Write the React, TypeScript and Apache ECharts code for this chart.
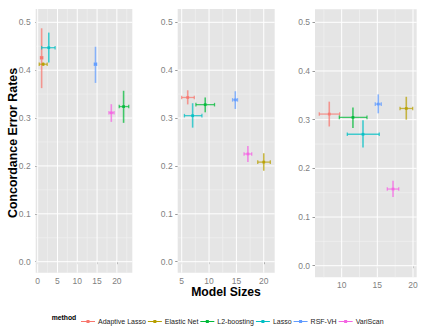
import React, { useEffect, useRef } from "react";
import * as echarts from "echarts";

const methods = ["Adaptive Lasso", "Elastic Net", "L2-boosting", "Lasso", "RSF-VH", "VariScan"];
const colors = ["#F8766D", "#B79F00", "#00BA38", "#00BFC4", "#619CFF", "#F564E3"];

// Panel 1
const size1 = [1.0, 1.4, 21.7, 2.8, 14.6, 18.6];
const size1Lo = [0.7, 0.4, 20.6, 1.0, 14.3, 18.0];
const size1Hi = [1.3, 2.4, 23.0, 4.4, 14.9, 19.3];
const err1 = [0.426, 0.4125, 0.324, 0.447, 0.4125, 0.311];
const err1Lo = [0.3625, 0.409, 0.29, 0.416, 0.3735, 0.292];
const err1Hi = [0.4875, 0.416, 0.357, 0.4785, 0.449, 0.329];

// Panel 2
const size2 = [6.1, 20.0, 9.3, 7.0, 14.8, 17.1];
const size2Lo = [5.0, 18.9, 7.6, 5.5, 14.3, 16.4];
const size2Hi = [7.3, 21.2, 11.0, 8.7, 15.2, 17.8];
const err2 = [0.343, 0.208, 0.328, 0.305, 0.338, 0.225];
const err2Lo = [0.3285, 0.19, 0.312, 0.28, 0.319, 0.208];
const err2Hi = [0.358, 0.2265, 0.343, 0.331, 0.356, 0.2417];

// Panel 3
const size3 = [8.26, 19.06, 11.58, 12.99, 15.13, 17.2];
const size3Lo = [6.86, 18.18, 9.67, 10.79, 14.71, 16.4];
const size3Hi = [9.72, 19.96, 13.55, 15.27, 15.55, 18.0];
const err3 = [0.3115, 0.323, 0.3047, 0.27, 0.332, 0.1575];
const err3Lo = [0.286, 0.3, 0.283, 0.243, 0.313, 0.141];
const err3Hi = [0.337, 0.347, 0.325, 0.299, 0.352, 0.1745];

const yTicks = [0, 0.1, 0.2, 0.3, 0.4, 0.5];
const yMinor = [0.05, 0.15, 0.25, 0.35, 0.45];
const xTicks1 = [0, 5, 10, 15, 20];
const xMinor1 = [2.5, 7.5, 12.5, 17.5, 22.5];
const xTicks2 = [5, 10, 15, 20];
const xMinor2 = [7.5, 12.5, 17.5];
const xTicks3 = [10, 15, 20];
const xMinor3 = [7.5, 12.5, 17.5];

const FONT = "'Liberation Sans', Arial, Helvetica, sans-serif";

const panels = [
  { left: 35.7, top: 9, width: 96.6, height: 263.7, xMin: -0.5, xMax: 23.9, yMin: -0.023, yMax: 0.5278,
    xTicks: xTicks1, xMinor: xMinor1, sx: size1, sxLo: size1Lo, sxHi: size1Hi, ey: err1, eyLo: err1Lo, eyHi: err1Hi },
  { left: 177.7, top: 9, width: 97, height: 263.7, xMin: 4.27, xMax: 22.0, yMin: -0.023, yMax: 0.5278,
    xTicks: xTicks2, xMinor: xMinor2, sx: size2, sxLo: size2Lo, sxHi: size2Hi, ey: err2, eyLo: err2Lo, eyHi: err2Hi },
  { left: 315, top: 9.3, width: 101.7, height: 268, xMin: 6.26, xMax: 20.52, yMin: -0.0238, yMax: 0.5267,
    xTicks: xTicks3, xMinor: xMinor3, sx: size3, sxLo: size3Lo, sxHi: size3Hi, ey: err3, eyLo: err3Lo, eyHi: err3Hi },
];

function gridLineSeries(i: number, values: number[], vertical: boolean, color: string, width: number, z: number) {
  return {
    type: "custom",
    xAxisIndex: i,
    yAxisIndex: i,
    silent: true,
    z,
    data: values.map((v) => (vertical ? [v, 0.2] : [panels[i].xMin + 1, v])),
    renderItem: (params: any, api: any) => {
      const cs = params.coordSys;
      const p = api.coord([api.value(0), api.value(1)]);
      const shape = vertical
        ? { x1: p[0], y1: cs.y, x2: p[0], y2: cs.y + cs.height }
        : { x1: cs.x, y1: p[1], x2: cs.x + cs.width, y2: p[1] };
      return { type: "line", shape, style: { stroke: color, lineWidth: width } };
    },
  };
}

const renderBar = (params: any, api: any) => {
  const x = api.value(0), xlo = api.value(1), xhi = api.value(2);
  const y = api.value(3), ylo = api.value(4), yhi = api.value(5);
  const c = api.coord([x, y]);
  const l = api.coord([xlo, y]);
  const r = api.coord([xhi, y]);
  const t = api.coord([x, yhi]);
  const b = api.coord([x, ylo]);
  const color = api.visual("color");
  const st = { stroke: color, lineWidth: 1.3, opacity: 0.72 };
  const stv = { stroke: color, lineWidth: 1.6, opacity: 0.72 };
  const cap = 1.8;
  return {
    type: "group",
    children: [
      { type: "line", shape: { x1: l[0], y1: c[1], x2: r[0], y2: c[1] }, style: st },
      { type: "line", shape: { x1: l[0], y1: c[1] - cap, x2: l[0], y2: c[1] + cap }, style: st },
      { type: "line", shape: { x1: r[0], y1: c[1] - cap, x2: r[0], y2: c[1] + cap }, style: st },
      { type: "line", shape: { x1: c[0], y1: t[1], x2: c[0], y2: b[1] }, style: stv },
      { type: "rect", shape: { x: c[0] - 1.4, y: c[1] - 1.4, width: 2.8, height: 2.8 }, style: { fill: color, opacity: 0.85 } },
    ],
  };
};

export default function App() {
  const ref = useRef<HTMLDivElement>(null);
  useEffect(() => {
    if (!ref.current) return;
    const chart = echarts.init(ref.current, null, { renderer: "svg" });
    const series: any[] = [];
    panels.forEach((p, i) => {
      series.push(gridLineSeries(i, p.xMinor, true, "#F3F3F3", 0.6, 1));
      series.push(gridLineSeries(i, yMinor, false, "#F3F3F3", 0.6, 1));
      series.push(gridLineSeries(i, p.xTicks, true, "#FFFFFF", 1, 2));
      series.push(gridLineSeries(i, yTicks, false, "#FFFFFF", 1, 2));
      methods.forEach((m, k) => {
        series.push({
          name: m,
          type: "custom",
          xAxisIndex: i,
          yAxisIndex: i,
          z: 5,
          itemStyle: { color: colors[k] },
          encode: { x: [0, 1, 2], y: [3, 4, 5] },
          data: [[p.sx[k], p.sxLo[k], p.sxHi[k], p.ey[k], p.eyLo[k], p.eyHi[k]]],
          renderItem: renderBar,
        });
      });
    });
    const option: any = {
      animation: false,
      grid: panels.map((p) => ({
        left: p.left, top: p.top, width: p.width, height: p.height,
        show: true, backgroundColor: "#E5E5E5", borderWidth: 0,
      })),
      xAxis: panels.map((p, i) => ({
        type: "value", gridIndex: i, min: p.xMin, max: p.xMax,
        axisLine: { show: false },
        splitLine: { show: false },
        axisTick: { show: true, customValues: p.xTicks, length: 2.5, lineStyle: { color: "#7F7F7F", width: 0.8 } },
        axisLabel: {
          customValues: p.xTicks, margin: 3.5, color: "#7F7F7F", fontSize: 8.5, fontFamily: FONT,
          formatter: (v: number) => String(v),
        },
      })),
      yAxis: panels.map((p, i) => ({
        type: "value", gridIndex: i, min: p.yMin, max: p.yMax,
        axisLine: { show: false },
        splitLine: { show: false },
        axisTick: { show: true, customValues: yTicks, length: 2.5, lineStyle: { color: "#7F7F7F", width: 0.8 } },
        axisLabel: {
          customValues: yTicks, margin: 5, color: "#7F7F7F", fontSize: 8.5, fontFamily: FONT,
          formatter: (v: number) => v.toFixed(1),
        },
      })),
      legend: {
        data: methods,
        left: 76,
        top: 313,
        icon: "path://M0,0.9L14,0.9L14,2.1L0,2.1Z M5.5,0L8.5,0L8.5,3L5.5,3Z",
        itemWidth: 14,
        itemHeight: 3,
        itemGap: 2,
        textStyle: { fontSize: 7, fontFamily: FONT, color: "#1a1a1a", padding: [0, 0, 0, -2] },
        selectedMode: false,
      },
      graphic: [
        {
          type: "text", x: 13, y: 143, rotation: Math.PI / 2,
          style: {
            text: "Concordance Error Rates", fontSize: 12.4, fontWeight: "bold", fontFamily: FONT,
            fill: "#000", textAlign: "center", textVerticalAlign: "middle",
          },
        },
        {
          type: "text", x: 226, y: 291.5,
          style: {
            text: "Model Sizes", fontSize: 12.2, fontWeight: "bold", fontFamily: FONT,
            fill: "#000", textAlign: "center", textVerticalAlign: "middle",
          },
        },
        {
          type: "text", x: 51.7, y: 317,
          style: {
            text: "method", fontSize: 6.8, fontWeight: "bold", fontFamily: FONT,
            fill: "#000", textAlign: "left", textVerticalAlign: "middle",
          },
        },
      ],
      series,
    };
    chart.setOption(option);
    return () => chart.dispose();
  }, []);
  return (
    <div
      ref={ref}
      style={{ position: "fixed", left: 0, top: 0, width: 427, height: 334, background: "#fff" }}
    />
  );
}
